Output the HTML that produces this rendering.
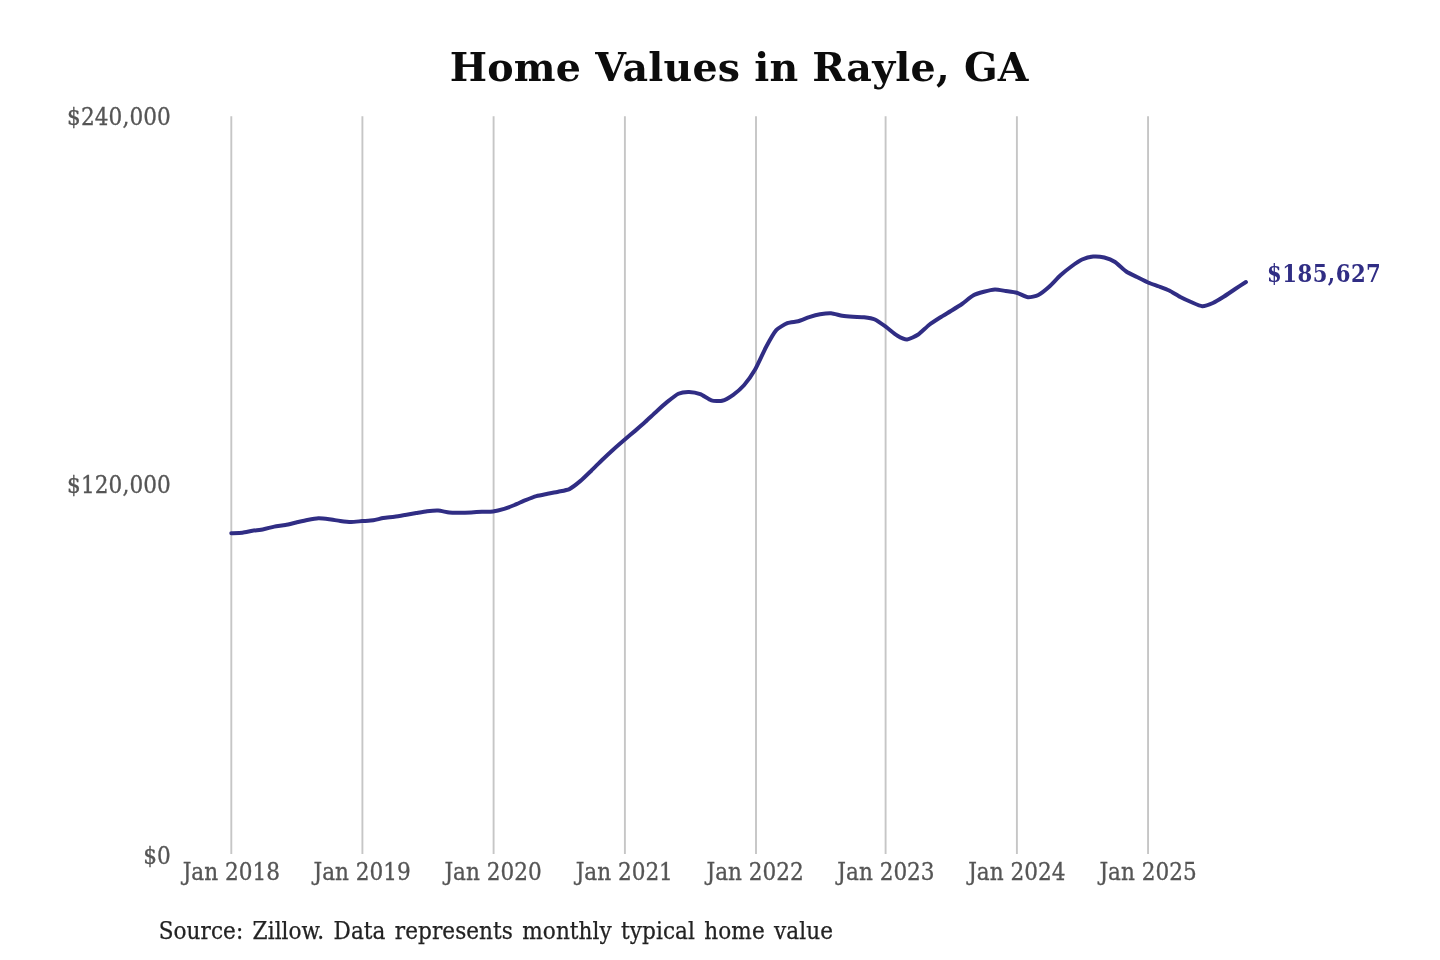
<!DOCTYPE html>
<html lang="en">
<head>
<meta charset="utf-8">
<title>Home Values in Rayle, GA</title>
<style>
html,body{margin:0;padding:0;background:#fff;}
body{width:1440px;height:960px;overflow:hidden;font-family:"DejaVu Serif","Liberation Serif",serif;}
svg{display:block;}
svg text{font-family:"DejaVu Serif Condensed","DejaVu Serif","Liberation Serif",serif;font-stretch:condensed;}
.title{font-family:"DejaVu Serif","Liberation Serif",serif;font-stretch:normal;font-size:39.5px;font-weight:bold;fill:#0c0c0c;text-anchor:middle;letter-spacing:0.23px;}
.grid line{stroke:#c6c6c6;stroke-width:1.9;}
.ylab text{font-size:24px;fill:#555;stroke:#555;stroke-width:0.3px;text-anchor:end;letter-spacing:0.1px;}
.xlab text{font-size:24px;fill:#555;stroke:#555;stroke-width:0.3px;text-anchor:middle;}
.src{font-size:24px;fill:#222;stroke:#222;stroke-width:0.25px;word-spacing:2.42px;letter-spacing:0.06px;}
.val{font-size:23.5px;font-weight:bold;fill:#302d84;letter-spacing:0.5px;}
.line{fill:none;stroke:#302d84;stroke-width:4.0;stroke-linejoin:round;stroke-linecap:round;}
</style>
</head>
<body>
<svg width="1440" height="960" viewBox="0 0 1440 960">
<rect width="1440" height="960" fill="#ffffff"/>
<text class="title" x="739.2" y="81">Home Values in Rayle, GA</text>
<g class="grid"><line x1="231.30" y1="116.2" x2="231.30" y2="854"/><line x1="362.40" y1="116.2" x2="362.40" y2="854"/><line x1="493.60" y1="116.2" x2="493.60" y2="854"/><line x1="624.90" y1="116.2" x2="624.90" y2="854"/><line x1="756.00" y1="116.2" x2="756.00" y2="854"/><line x1="885.60" y1="116.2" x2="885.60" y2="854"/><line x1="1016.90" y1="116.2" x2="1016.90" y2="854"/><line x1="1148.05" y1="116.2" x2="1148.05" y2="854"/></g>
<g class="ylab">
<text x="170.9" y="125">$240,000</text>
<text x="170.9" y="493">$120,000</text>
<text x="170.9" y="864">$0</text>
</g>
<g class="xlab"><text x="231.30" y="880">Jan 2018</text><text x="362.16" y="880">Jan 2019</text><text x="493.02" y="880">Jan 2020</text><text x="624.24" y="880">Jan 2021</text><text x="755.11" y="880">Jan 2022</text><text x="885.97" y="880">Jan 2023</text><text x="1016.83" y="880">Jan 2024</text><text x="1148.05" y="880">Jan 2025</text></g>
<path class="line" d="M231.30,533.20 C232.41,533.15 240.30,532.94 242.41,532.70 C244.53,532.46 250.34,531.15 252.45,530.80 C254.57,530.45 261.38,529.62 263.57,529.20 C265.75,528.78 272.14,527.02 274.32,526.60 C276.51,526.18 283.25,525.41 285.44,525.00 C287.62,524.59 294.01,523.00 296.19,522.50 C298.38,522.00 305.08,520.42 307.31,520.00 C309.53,519.58 316.23,518.38 318.42,518.30 C320.61,518.22 326.99,518.93 329.18,519.20 C331.36,519.47 338.10,520.72 340.29,521.00 C342.48,521.28 348.86,521.99 351.05,522.00 C353.23,522.01 359.94,521.27 362.16,521.10 C364.38,520.93 371.16,520.61 373.28,520.30 C375.39,519.99 381.20,518.35 383.31,518.00 C385.43,517.65 392.24,517.10 394.43,516.80 C396.62,516.50 403.00,515.38 405.18,515.00 C407.37,514.62 414.11,513.38 416.30,513.00 C418.49,512.62 424.87,511.45 427.05,511.20 C429.24,510.95 435.95,510.37 438.17,510.50 C440.39,510.63 447.10,512.28 449.28,512.50 C451.47,512.72 457.85,512.71 460.04,512.70 C462.23,512.69 468.97,512.49 471.15,512.40 C473.34,512.31 479.72,511.90 481.91,511.80 C484.10,511.70 490.80,511.70 493.02,511.40 C495.25,511.10 501.99,509.44 504.14,508.80 C506.29,508.16 512.38,505.87 514.54,505.00 C516.69,504.13 523.46,500.99 525.65,500.10 C527.84,499.21 534.22,496.73 536.41,496.10 C538.59,495.47 545.33,494.24 547.52,493.80 C549.71,493.36 556.09,492.17 558.28,491.70 C560.46,491.23 567.17,490.18 569.39,489.10 C571.61,488.02 578.32,482.74 580.50,480.90 C582.69,479.06 589.07,472.82 591.26,470.70 C593.45,468.58 600.19,461.80 602.37,459.70 C604.56,457.60 610.94,451.67 613.13,449.70 C615.32,447.73 622.02,441.91 624.24,440.00 C626.47,438.09 633.24,432.42 635.36,430.60 C637.47,428.78 643.28,423.72 645.40,421.80 C647.51,419.88 654.32,413.39 656.51,411.40 C658.70,409.41 665.08,403.67 667.27,401.90 C669.45,400.13 676.19,394.69 678.38,393.70 C680.57,392.71 686.95,391.95 689.14,392.00 C691.32,392.05 698.03,393.37 700.25,394.20 C702.47,395.03 709.18,399.64 711.37,400.30 C713.55,400.96 719.93,401.35 722.12,400.80 C724.31,400.25 731.05,396.35 733.24,394.80 C735.42,393.25 741.80,387.82 743.99,385.30 C746.18,382.78 752.88,373.45 755.11,369.60 C757.33,365.75 764.10,350.74 766.22,346.80 C768.34,342.86 774.14,332.56 776.26,330.20 C778.37,327.84 785.19,324.09 787.37,323.20 C789.56,322.31 795.94,321.90 798.13,321.30 C800.32,320.70 807.06,317.90 809.24,317.20 C811.43,316.50 817.81,314.70 820.00,314.30 C822.19,313.90 828.89,313.05 831.11,313.20 C833.34,313.35 840.04,315.44 842.23,315.80 C844.41,316.16 850.80,316.66 852.98,316.80 C855.17,316.94 861.91,316.93 864.10,317.20 C866.28,317.47 872.67,318.53 874.85,319.50 C877.04,320.47 883.74,325.30 885.97,326.90 C888.19,328.50 894.97,334.24 897.08,335.50 C899.20,336.76 905.01,339.60 907.12,339.50 C909.24,339.40 916.05,335.95 918.24,334.50 C920.42,333.05 926.80,326.70 928.99,325.00 C931.18,323.30 937.92,318.90 940.11,317.50 C942.29,316.10 948.67,312.35 950.86,311.00 C953.05,309.65 959.75,305.55 961.98,304.00 C964.20,302.45 970.90,296.72 973.09,295.50 C975.28,294.28 981.66,292.40 983.85,291.80 C986.03,291.20 992.77,289.58 994.96,289.50 C997.15,289.42 1003.53,290.67 1005.72,291.00 C1007.90,291.33 1014.61,292.18 1016.83,292.80 C1019.05,293.42 1025.79,296.98 1027.94,297.20 C1030.10,297.42 1036.19,296.07 1038.34,295.00 C1040.49,293.93 1047.27,288.45 1049.46,286.50 C1051.64,284.55 1058.02,277.50 1060.21,275.50 C1062.40,273.50 1069.14,268.10 1071.33,266.50 C1073.51,264.90 1079.89,260.50 1082.08,259.50 C1084.27,258.50 1090.97,256.70 1093.20,256.50 C1095.42,256.30 1102.12,256.95 1104.31,257.50 C1106.50,258.05 1112.88,260.60 1115.07,262.00 C1117.25,263.40 1123.99,270.00 1126.18,271.50 C1128.37,273.00 1134.75,275.90 1136.94,277.00 C1139.12,278.10 1145.83,281.55 1148.05,282.50 C1150.27,283.45 1157.05,285.70 1159.16,286.50 C1161.28,287.30 1167.09,289.45 1169.20,290.50 C1171.32,291.55 1178.13,295.85 1180.32,297.00 C1182.50,298.15 1188.89,301.08 1191.07,302.00 C1193.26,302.92 1200.00,306.10 1202.19,306.20 C1204.37,306.30 1210.76,303.97 1212.94,303.00 C1215.13,302.03 1221.83,297.90 1224.06,296.50 C1226.28,295.10 1232.98,290.45 1235.17,289.00 C1237.36,287.55 1244.85,282.70 1245.93,282.00"/>
<text class="val" x="1267" y="282">$185,627</text>
<text class="src" x="158.7" y="939">Source: Zillow. Data represents monthly typical home value</text>
</svg>
</body>
</html>
